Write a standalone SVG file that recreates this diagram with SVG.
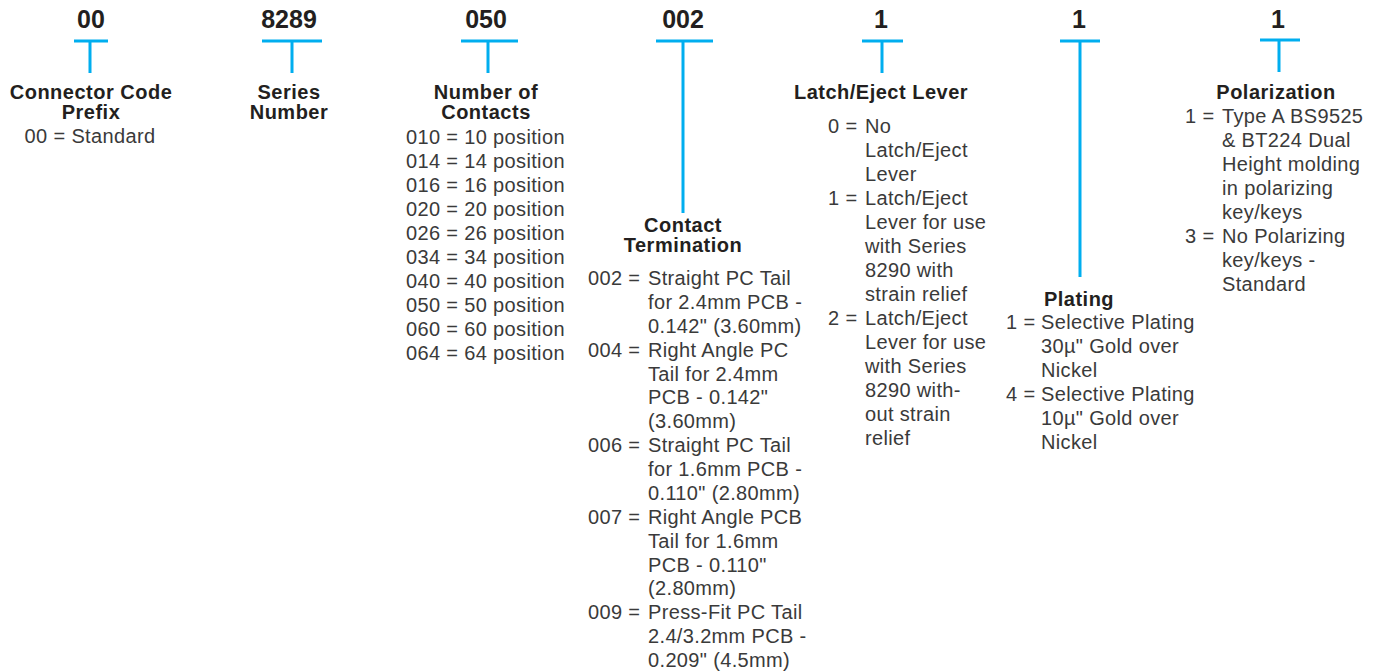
<svg xmlns="http://www.w3.org/2000/svg" width="1375" height="672" viewBox="0 0 1375 672">
<style>
.code{font-family:"Liberation Sans",Arial,sans-serif;font-weight:bold;font-size:25px;fill:#231f20;text-anchor:middle}
.hd{font-family:"Liberation Sans",Arial,sans-serif;font-weight:bold;font-size:20px;letter-spacing:0.5px;fill:#231f20;text-anchor:middle}
.tx{font-family:"Liberation Sans",Arial,sans-serif;font-size:20px;letter-spacing:0.35px;fill:#3a3a3a}
.mid{text-anchor:middle}
.ln{stroke:#00aeef;stroke-width:3;fill:none}
</style>
<rect width="1375" height="672" fill="#ffffff"/>
<g id="connectors">
<path class="ln" d="M74 41H108M90 41V73"/>
<path class="ln" d="M262 41H322M292 41V73"/>
<path class="ln" d="M461 41H518M488 41V73"/>
<path class="ln" d="M656 41H713M683 41V213"/>
<path class="ln" d="M862 41H903M882 41V73"/>
<path class="ln" d="M1060 41H1100M1080 41V277"/>
<path class="ln" d="M1260 40H1300M1279 40V72"/>
</g>
<g id="prefix">
<text class="code" x="91" y="28">00</text>
<text class="hd" x="91" y="99">Connector Code</text>
<text class="hd" x="91" y="119">Prefix</text>
<text class="tx mid" x="90" y="143">00 = Standard</text>
</g>
<g id="series">
<text class="code" x="289" y="28">8289</text>
<text class="hd" x="289" y="99">Series</text>
<text class="hd" x="289" y="119">Number</text>
</g>
<g id="contacts">
<text class="code" x="486" y="28">050</text>
<text class="hd" x="486" y="99">Number of</text>
<text class="hd" x="486" y="119">Contacts</text>
<text class="tx" x="406" y="144">010 = 10 position</text>
<text class="tx" x="406" y="168">014 = 14 position</text>
<text class="tx" x="406" y="192">016 = 16 position</text>
<text class="tx" x="406" y="216">020 = 20 position</text>
<text class="tx" x="406" y="240">026 = 26 position</text>
<text class="tx" x="406" y="264">034 = 34 position</text>
<text class="tx" x="406" y="288">040 = 40 position</text>
<text class="tx" x="406" y="312">050 = 50 position</text>
<text class="tx" x="406" y="336">060 = 60 position</text>
<text class="tx" x="406" y="360">064 = 64 position</text>
</g>
<g id="termination">
<text class="code" x="683" y="28">002</text>
<text class="hd" x="683" y="232">Contact</text>
<text class="hd" x="683" y="252">Termination</text>
<text class="tx" x="588" y="285">002 =</text>
<text class="tx" x="648" y="285">Straight PC Tail</text>
<text class="tx" x="648" y="308.9">for 2.4mm PCB -</text>
<text class="tx" x="648" y="332.8">0.142" (3.60mm)</text>
<text class="tx" x="588" y="356.6">004 =</text>
<text class="tx" x="648" y="356.6">Right Angle PC</text>
<text class="tx" x="648" y="380.5">Tail for 2.4mm</text>
<text class="tx" x="648" y="404.4">PCB - 0.142"</text>
<text class="tx" x="648" y="428.3">(3.60mm)</text>
<text class="tx" x="588" y="452.1">006 =</text>
<text class="tx" x="648" y="452.1">Straight PC Tail</text>
<text class="tx" x="648" y="476">for 1.6mm PCB -</text>
<text class="tx" x="648" y="499.9">0.110" (2.80mm)</text>
<text class="tx" x="588" y="523.8">007 =</text>
<text class="tx" x="648" y="523.8">Right Angle PCB</text>
<text class="tx" x="648" y="547.6">Tail for 1.6mm</text>
<text class="tx" x="648" y="571.5">PCB - 0.110"</text>
<text class="tx" x="648" y="595.4">(2.80mm)</text>
<text class="tx" x="588" y="619.3">009 =</text>
<text class="tx" x="648" y="619.3">Press-Fit PC Tail</text>
<text class="tx" x="648" y="643.1">2.4/3.2mm PCB -</text>
<text class="tx" x="648" y="667">0.209" (4.5mm)</text>
</g>
<g id="latch">
<text class="code" x="881" y="28">1</text>
<text class="hd" x="881" y="99">Latch/Eject Lever</text>
<text class="tx" x="828" y="133">0 =</text>
<text class="tx" x="865" y="133">No</text>
<text class="tx" x="865" y="157">Latch/Eject</text>
<text class="tx" x="865" y="181">Lever</text>
<text class="tx" x="828" y="205">1 =</text>
<text class="tx" x="865" y="205">Latch/Eject</text>
<text class="tx" x="865" y="229">Lever for use</text>
<text class="tx" x="865" y="253">with Series</text>
<text class="tx" x="865" y="277">8290 with</text>
<text class="tx" x="865" y="301">strain relief</text>
<text class="tx" x="828" y="325">2 =</text>
<text class="tx" x="865" y="325">Latch/Eject</text>
<text class="tx" x="865" y="349">Lever for use</text>
<text class="tx" x="865" y="373">with Series</text>
<text class="tx" x="865" y="397">8290 with-</text>
<text class="tx" x="865" y="421">out strain</text>
<text class="tx" x="865" y="445">relief</text>
</g>
<g id="plating">
<text class="code" x="1079" y="28">1</text>
<text class="hd" x="1079" y="306">Plating</text>
<text class="tx" x="1006" y="329">1 =</text>
<text class="tx" x="1041" y="329">Selective Plating</text>
<text class="tx" x="1041" y="353">30µ" Gold over</text>
<text class="tx" x="1041" y="377">Nickel</text>
<text class="tx" x="1006" y="401">4 =</text>
<text class="tx" x="1041" y="401">Selective Plating</text>
<text class="tx" x="1041" y="425">10µ" Gold over</text>
<text class="tx" x="1041" y="449">Nickel</text>
</g>
<g id="polarization">
<text class="code" x="1278" y="28">1</text>
<text class="hd" x="1276" y="99">Polarization</text>
<text class="tx" x="1185" y="123">1 =</text>
<text class="tx" x="1222" y="123">Type A BS9525</text>
<text class="tx" x="1222" y="147">&amp; BT224 Dual</text>
<text class="tx" x="1222" y="171">Height molding</text>
<text class="tx" x="1222" y="195">in polarizing</text>
<text class="tx" x="1222" y="219">key/keys</text>
<text class="tx" x="1185" y="243">3 =</text>
<text class="tx" x="1222" y="243">No Polarizing</text>
<text class="tx" x="1222" y="267">key/keys -</text>
<text class="tx" x="1222" y="291">Standard</text>
</g>
</svg>
